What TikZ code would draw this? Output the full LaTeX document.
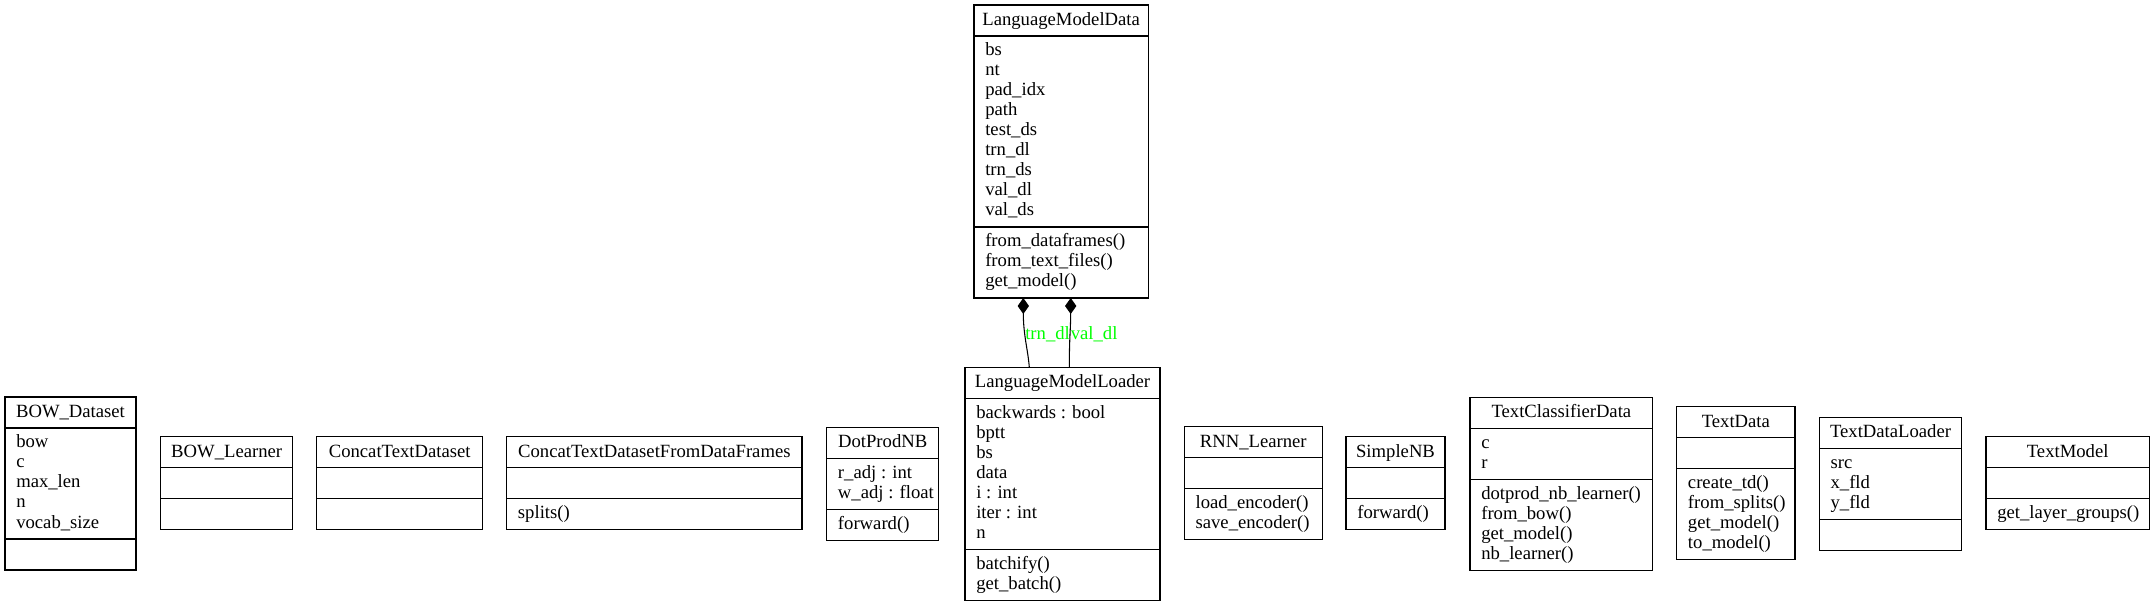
\documentclass[tikz,border=0pt]{standalone}
\usepackage{fontspec}
\setmainfont{Liberation Serif}
\usetikzlibrary{calc,arrows.meta}

\definecolor{lblgreen}{RGB}{0,255,0}

\tikzset{
  classbox/.style={draw, line width=0.8pt, inner sep=0pt, outer sep=0pt, anchor=north west},
  classline/.style={line width=0.8pt},
  classtitle/.style={inner sep=0pt, anchor=base, font=\fontsize{14}{15}\selectfont},
  classtext/.style={inner sep=0pt, anchor=base west, font=\fontsize{14}{15}\selectfont},
  comp/.style={line width=0.8pt, {Diamond[length=12pt,width=8.5pt]}-},
  lbl/.style={inner sep=0pt, anchor=base west, text=lblgreen, font=\fontsize{14}{15}\selectfont}
}

% #1 name, #2 x, #3 y, #4 width, #5 title, #6/#7 fields, #8/#9 methods
\newcommand{\umlclass}[9]{%
  \pgfmathsetmacro{\fh}{20*max(#6,1)+11}%
  \pgfmathsetmacro{\mh}{20*max(#8,1)+11}%
  \pgfmathsetmacro{\bw}{0.75*#4}%
  \pgfmathsetmacro{\bh}{0.75*(31+\fh+\mh)}%
  \node[classbox, minimum width=\bw pt, minimum height=\bh pt] (#1) at (#2,#3) {};
  \draw[classline] ($(#1.north west)+(0,31)$) -- ($(#1.north east)+(0,31)$);
  \draw[classline] ($(#1.north west)+(0,31+\fh)$) -- ($(#1.north east)+(0,31+\fh)$);
  \node[classtitle] (#1-title) at ($(#1.north)+(0,20.5)$) {#5};
  \ifnum#6>0
    \foreach \f [count=\i] in {#7}
      \node[classtext] (#1-f\i) at ($(#1.north west)+(11,31+20*\i)$) {\f};
  \fi
  \ifnum#8>0
    \foreach \m [count=\i] in {#9}
      \node[classtext] (#1-m\i) at ($(#1.north west)+(11,31+\fh+20*\i)$) {\m};
  \fi
}

\begin{document}
\begin{tikzpicture}[x=0.75pt, y=-0.75pt]
  \useasboundingbox (0,0) rectangle (2155,605);

  \umlclass{lmd}{974}{5}{174.3}{LanguageModelData}
    {9}{bs,nt,pad\_idx,path,test\_ds,trn\_dl,trn\_ds,val\_dl,val\_ds}
    {3}{from\_dataframes(),from\_text\_files(),get\_model()}

  % bottom row
  \umlclass{bowds}{5}{397}{131}{BOW\_Dataset}{5}{bow,c,max\_len,n,vocab\_size}{0}{}
  \umlclass{bowlrn}{160.7}{436.7}{132}{BOW\_Learner}{0}{}{0}{}
  \umlclass{ctds}{316.7}{436.7}{166}{ConcatTextDataset}{0}{}{0}{}
  \umlclass{ctdsdf}{506.7}{436.7}{295.3}{ConcatTextDatasetFromDataFrames}{0}{}{1}{splits()}
  \umlclass{dpnb}{826.7}{427.3}{112}{DotProdNB}{2}{r\_adj : int,w\_adj : float}{1}{forward()}
  \umlclass{lml}{965}{367.3}{195}{LanguageModelLoader}
    {7}{backwards : bool,bptt,bs,data,i : int,iter : int,n}
    {2}{batchify(),get\_batch()}
  \umlclass{rnn}{1184.3}{426.7}{138}{RNN\_Learner}{0}{}{2}{load\_encoder(),save\_encoder()}
  \umlclass{snb}{1346}{436.7}{99}{SimpleNB}{0}{}{1}{forward()}
  \umlclass{tcd}{1470}{397.3}{182.7}{TextClassifierData}{2}{c,r}
    {4}{dotprod\_nb\_learner(),from\_bow(),get\_model(),nb\_learner()}
  \umlclass{td}{1676.7}{406.7}{118.3}{TextData}{0}{}
    {4}{create\_td(),from\_splits(),get\_model(),to\_model()}
  \umlclass{tdl}{1819.3}{417.3}{142.4}{TextDataLoader}{3}{src,x\_fld,y\_fld}{0}{}
  \umlclass{tm}{1986}{436.7}{163.3}{TextModel}{0}{}{1}{get\_layer\_groups()}

  % composition
  \draw[comp] ($(lmd.south west)+(49.3,0)$) .. controls +(0,37) and +(-1.3,-17) .. ($(lml.north west)+(64.3,0)$);
  \draw[comp] ($(lmd.south west)+(96.7,0)$) .. controls +(0,30) and +(0,-30) .. ($(lml.north west)+(104.3,0)$);
  \node[lbl] (trnlbl) at ($(lml.north west)+(60,-28)$) {trn\_dl};
  \node[lbl] (vallbl) at ($(lml.north west)+(105.5,-28)$) {val\_dl};
\end{tikzpicture}
\end{document}
